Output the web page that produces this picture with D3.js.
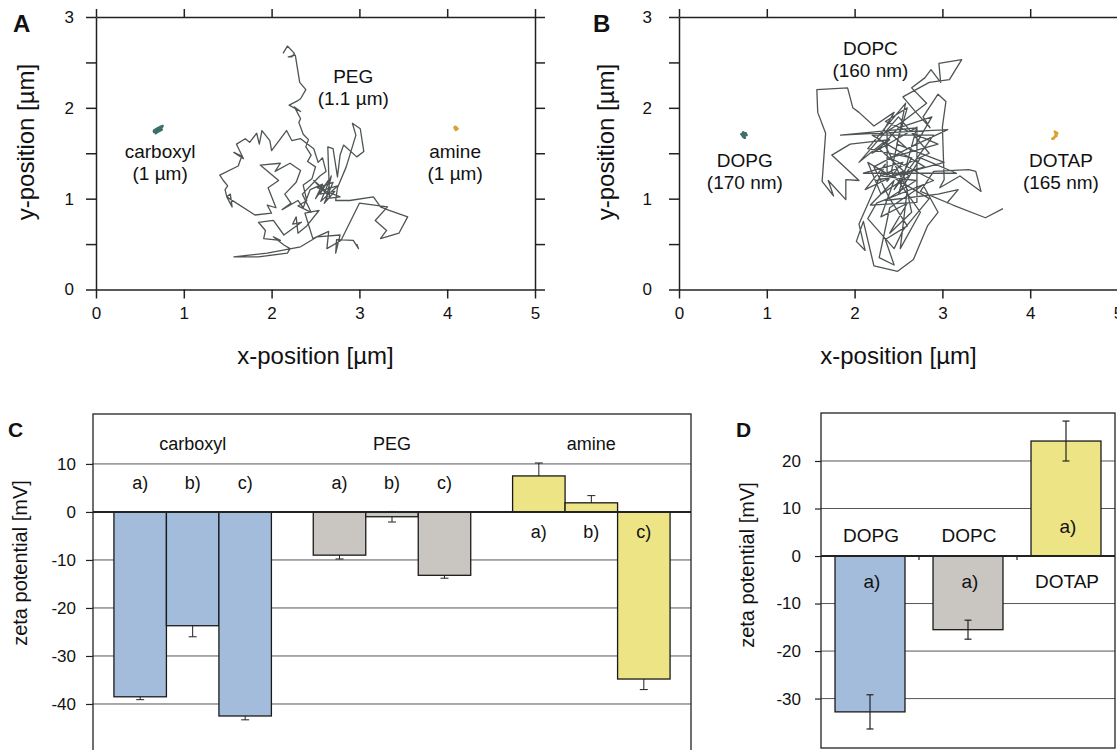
<!DOCTYPE html>
<html>
<head>
<meta charset="utf-8">
<script src="https://cdn.jsdelivr.net/npm/d3@7"></script>
<style>
  body { margin: 0; background: #fff; }
  svg text { font-family: Arial, "Liberation Sans", sans-serif; fill: #111; }
</style>
</head>
<body>
<svg id="chart" width="1117" height="750"></svg>
<script>
// ---- trajectories (x, y in µm) ----
const pegTrack = [
  [2.13,2.60],[2.18,2.68],[2.26,2.60],[2.23,2.56],[2.19,2.56],[2.27,2.58],[2.32,2.28],[2.39,2.20],[2.33,2.10],[2.30,2.08],
  [2.20,2.03],[2.33,1.96],[2.26,2.01],[2.33,1.88],[2.31,1.84],[2.36,1.71],[2.42,1.65],[2.39,1.57],[2.45,1.48],[2.41,1.41],
  [2.50,1.35],[2.46,1.22],[2.36,1.15],[2.40,0.98],[2.30,0.92],[2.45,0.85],[2.35,1.05],[2.55,1.25],[2.62,1.30],[2.58,1.45],
  [2.53,1.40],[2.48,1.55],
  [2.33,1.66],[2.23,1.64],[2.17,1.75],[2.00,1.53],[1.98,1.64],[1.89,1.75],[1.86,1.60],[1.83,1.72],[1.75,1.62],[1.70,1.66],
  [1.60,1.60],[1.68,1.44],[1.57,1.51],[1.66,1.47],
  [1.62,1.36],[1.41,1.26],[1.45,1.20],[1.50,1.14],[1.47,1.10],[1.49,1.02],[1.53,1.05],[1.55,0.91],[1.49,1.02],[1.81,0.82],
  [2.00,0.84],[1.95,0.93],[2.05,0.90],[1.96,1.12],[2.08,1.20],[1.87,1.37],[2.10,1.39],[2.04,1.30],[2.21,1.39],[2.33,1.31],
  [2.28,1.18],[2.15,1.05],[2.22,0.95],[2.12,0.88],[2.30,0.98],[2.36,0.90],[2.44,1.10],
  [2.58,1.16],[2.50,1.00],[2.66,1.22],[2.55,1.05],[2.72,1.08],[2.60,0.95],[2.70,1.18],[2.52,1.12],[2.78,1.02],[2.62,1.00],
  [2.68,1.25],[2.56,0.97],[2.75,1.14],[2.60,1.10],[2.48,1.20],[2.66,1.02],[2.64,1.57],[2.70,1.55],[2.75,1.24],[2.78,1.48],
  [2.82,1.59],[2.97,1.46],[3.05,1.52],[3.01,1.77],[2.92,1.83],[2.96,1.70],[2.85,1.35],[2.75,1.12],[2.73,0.98],[2.89,0.98],
  [3.16,1.02],[3.24,0.91],[3.34,0.87],[3.55,0.80],[3.45,0.62],[3.24,0.56],[3.31,0.65],[3.18,0.76],[3.32,0.91],[3.00,0.95],
  [2.79,0.54],[2.63,0.45],[2.65,0.64],[2.47,0.56],[2.38,0.84],[2.54,0.87],[2.40,0.70],[2.30,0.62],[2.28,0.80],[2.24,0.72],
  [2.34,0.74],[2.14,0.60],[2.02,0.76],[1.85,0.74],[1.93,0.65],[1.91,0.56],[2.10,0.54],[2.02,0.58],[2.14,0.49],[2.21,0.45],
  [2.18,0.40],[1.85,0.36],[1.57,0.36],[1.95,0.40],[2.33,0.47],[2.52,0.58],[2.78,0.60],[2.73,0.40],[2.74,0.55],[2.93,0.54],
  [2.99,0.45],[2.97,0.50]
];
const carboxylTrack = [[0.65,1.73],[0.70,1.76],[0.67,1.74],[0.73,1.79],[0.76,1.80],[0.72,1.75],[0.68,1.72],[0.74,1.77],[0.71,1.78],[0.66,1.75],[0.75,1.76],[0.69,1.73]];
const amineTrack = [[4.08,1.80],[4.10,1.78],[4.09,1.76],[4.11,1.77],[4.08,1.78],[4.10,1.79],[4.12,1.77],[4.09,1.75]];

const dopcTrack = [
  [3.69,0.89],[3.49,0.79],[3.12,0.93],[2.75,1.08],[2.90,1.30],[3.30,1.32],[3.38,1.30],[3.44,1.08],[3.20,1.25],[2.97,1.12],
  [3.02,1.21],[3.00,1.79],[3.04,2.07],[2.95,2.15],[2.78,1.90],[2.86,1.78],[2.70,1.95],[2.55,2.12],[2.85,2.28],[3.08,2.31],
  [3.22,2.53],[2.96,2.49],[2.98,2.28],[2.87,2.42],[2.80,2.33],[2.65,2.22],[2.82,2.05],[2.55,1.85],[2.30,1.70],[2.45,1.95],
  [2.22,1.80],[2.05,1.95],[1.98,2.00],[1.92,2.22],[1.57,2.20],[1.58,1.95],[1.67,1.72],[1.63,1.19],[1.76,1.03],[1.70,1.20],
  [1.90,0.99],[1.90,1.21],[2.05,1.20],[1.74,1.48],[1.95,1.60],[2.40,1.65],[2.20,1.50],[2.70,1.78],[1.84,1.70],[3.06,1.76],
  [2.60,1.55],[2.37,1.75],[2.37,1.19],[2.55,1.40],[2.10,1.28],[3.16,1.28],[2.75,1.45],[2.50,1.05],[2.71,1.79],[2.71,0.96],
  [2.18,0.93],[2.45,1.20],[2.30,0.80],[2.60,0.95],[2.40,0.62],[2.65,0.85],[2.55,1.30],[2.12,1.10],[2.35,1.38],[2.05,0.72],
  [2.12,0.43],[2.02,0.53],[2.10,0.75],[2.22,0.26],[2.49,0.20],[2.67,0.33],[2.83,0.70],[2.95,0.85],[2.78,1.15],[2.40,0.90],
  [2.28,0.35],[2.45,0.27],[2.35,0.55],[2.60,0.70],[2.40,1.00],[2.22,1.35],[2.70,1.60],[2.88,1.90],[2.50,1.78],[2.28,1.55],
  [2.62,1.25],[2.30,1.05],[2.15,1.40],[2.85,1.00],[2.55,0.65],[2.45,0.45],[2.15,0.78],[2.25,0.95],[2.90,1.20],[2.40,1.45],
  [2.95,1.60],[2.35,1.85],[2.60,2.00],[2.48,1.60],[3.02,1.40],[2.25,1.20],[2.80,1.35],[2.20,1.70],[2.90,1.70],[2.45,1.10],
  [2.65,1.45],[2.15,1.55],[2.58,2.05],[2.42,1.30],[2.75,0.85],[2.52,0.45],[2.60,1.10],[2.33,1.62],[2.05,1.40],[2.50,1.90],
  [2.85,1.50],[2.30,1.25],[2.70,1.20],[2.35,0.98],[2.95,1.05],[3.18,1.10],[3.05,0.95]
];
const dopgTrack = [[0.72,1.70],[0.76,1.72],[0.74,1.68],[0.71,1.71],[0.77,1.70],[0.73,1.73],[0.75,1.67],[0.72,1.69]];
const dotapTrack = [[4.26,1.65],[4.29,1.70],[4.27,1.67],[4.31,1.72],[4.28,1.74],[4.30,1.69],[4.25,1.66],[4.28,1.68]];

// ---- zeta potential, panel C ----
const groupsC = ['carboxyl', 'PEG', 'amine'];
const subsC = ['a)', 'b)', 'c)'];
const valuesC = [[-38.5, -23.7, -42.5], [-9.0, -1.0, -13.2], [7.5, 1.9, -34.8]];
const errorsC = [[0.6, 2.3, 0.8], [0.8, 1.1, 0.6], [2.7, 1.5, 2.2]];
const ticksC = [-40, -30, -20, -10, 0, 10];

// ---- zeta potential, panel D ----
const lipidsD = ['DOPG', 'DOPC', 'DOTAP'];
const valuesD = [-32.8, -15.5, 24.2];
const errorsD = [3.6, 2.0, 4.2];
const ticksD = [-30, -20, -10, 0, 10, 20];

const barColors = ['#a3bcdc', '#c9c5c1', '#ece485'];
const ink = '#222';
const plain = d => String(d); // hyphen-minus like the original

const svg = d3.select('#chart');

const panelLetter = (t, x, y, size) => svg.append('text').attr('x', x).attr('y', y)
  .attr('font-size', size).attr('font-weight', 'bold').text(t);

// trajectory panel
const drawTracks = (opt) => {
  const g = svg.append('g');
  const x = d3.scaleLinear().domain([0, 5]).range([opt.left, opt.left + 439]);
  const y = d3.scaleLinear().domain([0, 3]).range([289.5, 17]);

  const styleAxis = sel => {
    sel.selectAll('path,line').attr('stroke', ink).attr('stroke-width', 1.5);
    sel.selectAll('text').attr('font-size', 17).attr('fill', '#111');
  };
  const yTicks = [0, 0.5, 1, 1.5, 2, 2.5, 3];
  g.append('g').attr('transform', `translate(0,${y(0)})`)
    .call(d3.axisBottom(x).tickValues([0, 1, 2, 3, 4, 5]).tickSize(9).tickSizeOuter(0).tickPadding(8).tickFormat(plain))
    .call(styleAxis);
  g.append('g').attr('transform', `translate(0,${y(3)})`)
    .call(d3.axisTop(x).tickValues([0, 1, 2, 3, 4, 5]).tickSize(8).tickSizeOuter(0).tickFormat(''))
    .call(styleAxis);
  g.append('g').attr('transform', `translate(${x(0)},0)`)
    .call(d3.axisLeft(y).tickValues(yTicks).tickSize(10).tickSizeOuter(0).tickPadding(opt.pad)
      .tickFormat(d => Number.isInteger(d) ? plain(d) : ''))
    .call(styleAxis);
  g.append('g').attr('transform', `translate(${x(5)},0)`)
    .call(d3.axisRight(y).tickValues(yTicks).tickSize(10).tickSizeOuter(0).tickFormat(''))
    .call(styleAxis);

  const line = d3.line().x(d => x(d[0])).y(d => y(d[1]));
  opt.tracks.forEach(t => {
    g.append('path').attr('d', line(t.data)).attr('fill', t.fill || 'none')
      .attr('stroke', t.color).attr('stroke-width', t.width).attr('stroke-linejoin', 'round');
  });

  opt.labels.forEach(l => {
    l.lines.forEach((s, i) => {
      g.append('text').attr('x', x(l.x)).attr('y', y(l.y) + i * 22)
        .attr('text-anchor', 'middle').attr('dominant-baseline', 'central')
        .attr('font-size', 19).text(s);
    });
  });

  g.append('text').attr('x', (x(0) + x(5)) / 2).attr('y', 355)
    .attr('text-anchor', 'middle').attr('dominant-baseline', 'central')
    .attr('font-size', 24).text('x-position [µm]');
  g.append('text').attr('transform', `translate(${opt.titleX},142) rotate(-90)`)
    .attr('text-anchor', 'middle').attr('dominant-baseline', 'central')
    .attr('font-size', 24).text('y-position [µm]');
};

drawTracks({
  left: 96, pad: 12, titleX: 25,
  tracks: [
    { data: pegTrack, color: '#4e5454', width: 1.3 },
    { data: carboxylTrack, color: '#3d6e6e', width: 2.4, fill: '#3d6e6e' },
    { data: amineTrack, color: '#d9a22c', width: 2.2, fill: '#d9a22c' }
  ],
  labels: [
    { x: 0.73, y: 1.52, lines: ['carboxyl', '(1 µm)'] },
    { x: 2.93, y: 2.34, lines: ['PEG', '(1.1 µm)'] },
    { x: 4.09, y: 1.52, lines: ['amine', '(1 µm)'] }
  ]
});
drawTracks({
  left: 679, pad: 17, titleX: 605,
  tracks: [
    { data: dopcTrack, color: '#4e5454', width: 1.3 },
    { data: dopgTrack, color: '#3d6e6e', width: 2.6, fill: '#3d6e6e' },
    { data: dotapTrack, color: '#d9a22c', width: 2.4, fill: '#d9a22c' }
  ],
  labels: [
    { x: 0.75, y: 1.42, lines: ['DOPG', '(170 nm)'] },
    { x: 2.18, y: 2.65, lines: ['DOPC', '(160 nm)'] },
    { x: 4.35, y: 1.42, lines: ['DOTAP', '(165 nm)'] }
  ]
});
panelLetter('A', 13, 32, 24);
panelLetter('B', 593, 32, 24);

// ---- panel C ----
{
  const left = 93, right = 691, top = 414, bottom = 752;
  const y = d3.scaleLinear().domain([-50, 20.4]).range([bottom, top]);
  const x = d3.scaleBand().domain(groupsC).range([left, right]).paddingInner(0.21).paddingOuter(0.105);
  const xs = d3.scaleBand().domain(subsC).range([0, x.bandwidth()]);
  const g = svg.append('g');

  ticksC.filter(t => t !== 0).forEach(t => {
    g.append('line').attr('x1', left).attr('x2', right).attr('y1', y(t)).attr('y2', y(t))
      .attr('stroke', '#555').attr('stroke-width', 1);
  });

  groupsC.forEach((grp, gi) => {
    const positive = d3.max(valuesC[gi]) > 0;
    subsC.forEach((s, si) => {
      const v = valuesC[gi][si], e = errorsC[gi][si];
      const cx = x(grp) + xs(s) + xs.bandwidth() / 2;
      // error bar behind the bar
      g.append('line').attr('x1', cx).attr('x2', cx).attr('y1', y(v - e)).attr('y2', y(v + e))
        .attr('stroke', ink).attr('stroke-width', 1);
      [v - e, v + e].forEach(ev => g.append('line').attr('x1', cx - 4).attr('x2', cx + 4)
        .attr('y1', y(ev)).attr('y2', y(ev)).attr('stroke', ink).attr('stroke-width', 1));
      g.append('rect').attr('x', x(grp) + xs(s)).attr('width', xs.bandwidth())
        .attr('y', y(Math.max(0, v))).attr('height', Math.abs(y(v) - y(0)))
        .attr('fill', barColors[gi]).attr('stroke', '#1a1a1a').attr('stroke-width', 1.3);
      g.append('text').attr('x', cx).attr('y', positive ? y(0) + 20 : y(0) - 29)
        .attr('text-anchor', 'middle').attr('dominant-baseline', 'central')
        .attr('font-size', 18).text(s);
    });
    g.append('text').attr('x', x(grp) + x.bandwidth() / 2).attr('y', 444)
      .attr('text-anchor', 'middle').attr('dominant-baseline', 'central')
      .attr('font-size', 18).text(grp);
  });

  g.append('line').attr('x1', left).attr('x2', right).attr('y1', y(0)).attr('y2', y(0))
    .attr('stroke', ink).attr('stroke-width', 2);
  g.append('rect').attr('x', left).attr('y', top).attr('width', right - left).attr('height', bottom - top)
    .attr('fill', 'none').attr('stroke', ink).attr('stroke-width', 1.3);

  g.append('g').attr('transform', `translate(${left},0)`)
    .call(d3.axisLeft(y).tickValues(ticksC).tickSize(7).tickSizeOuter(0).tickPadding(10).tickFormat(plain))
    .call(sel => {
      sel.select('.domain').remove();
      sel.selectAll('line').attr('stroke', ink).attr('stroke-width', 1.2);
      sel.selectAll('text').attr('font-size', 17).attr('fill', '#111');
    });

  g.append('text').attr('transform', `translate(20,563) rotate(-90)`)
    .attr('text-anchor', 'middle').attr('dominant-baseline', 'central')
    .attr('font-size', 20).text('zeta potential [mV]');
  panelLetter('C', 8, 437, 21);
}

// ---- panel D ----
{
  const left = 821, right = 1115, top = 413, bottom = 748;
  const y = d3.scaleLinear().domain([-40.4, 30.1]).range([bottom, top]);
  const x = d3.scaleBand().domain(lipidsD).range([left, right]).paddingInner(0.286).paddingOuter(0.143);
  const g = svg.append('g');

  ticksD.filter(t => t !== 0).forEach(t => {
    g.append('line').attr('x1', left).attr('x2', right).attr('y1', y(t)).attr('y2', y(t))
      .attr('stroke', '#555').attr('stroke-width', 1);
  });

  lipidsD.forEach((name, i) => {
    const v = valuesD[i], e = errorsD[i];
    const cx = x(name) + x.bandwidth() / 2;
    g.append('rect').attr('x', x(name)).attr('width', x.bandwidth())
      .attr('y', y(Math.max(0, v))).attr('height', Math.abs(y(v) - y(0)))
      .attr('fill', barColors[i]).attr('stroke', '#1a1a1a').attr('stroke-width', 1.3);
    g.append('line').attr('x1', cx).attr('x2', cx).attr('y1', y(v - e)).attr('y2', y(v + e))
      .attr('stroke', ink).attr('stroke-width', 1.2);
    [v - e, v + e].forEach(ev => g.append('line').attr('x1', cx - 3.5).attr('x2', cx + 3.5)
      .attr('y1', y(ev)).attr('y2', y(ev)).attr('stroke', ink).attr('stroke-width', 1.2));
    const neg = v < 0;
    g.append('text').attr('x', cx + 1).attr('y', neg ? y(0) - 21 : y(0) + 25)
      .attr('text-anchor', 'middle').attr('dominant-baseline', 'central')
      .attr('font-size', 19).text(name);
    g.append('text').attr('x', cx + 2).attr('y', neg ? y(0) + 25 : y(0) - 30)
      .attr('text-anchor', 'middle').attr('dominant-baseline', 'central')
      .attr('font-size', 19).text('a)');
  });

  g.append('line').attr('x1', left).attr('x2', right).attr('y1', y(0)).attr('y2', y(0))
    .attr('stroke', ink).attr('stroke-width', 2);
  lipidsD.slice(1).forEach(name => {
    const bx = x(name) - x.step() * x.paddingInner() / 2;
    g.append('line').attr('x1', bx).attr('x2', bx).attr('y1', y(0)).attr('y2', y(0) + 4)
      .attr('stroke', ink).attr('stroke-width', 1.2);
  });
  g.append('rect').attr('x', left).attr('y', top).attr('width', right - left).attr('height', bottom - top)
    .attr('fill', 'none').attr('stroke', ink).attr('stroke-width', 1.3);

  g.append('g').attr('transform', `translate(${left},0)`)
    .call(d3.axisLeft(y).tickValues(ticksD).tickSize(6).tickSizeOuter(0).tickPadding(14).tickFormat(plain))
    .call(sel => {
      sel.select('.domain').remove();
      sel.selectAll('line').attr('stroke', ink).attr('stroke-width', 1.2);
      sel.selectAll('text').attr('font-size', 17).attr('fill', '#111');
    });

  g.append('text').attr('transform', `translate(747,565) rotate(-90)`)
    .attr('text-anchor', 'middle').attr('dominant-baseline', 'central')
    .attr('font-size', 20).text('zeta potential [mV]');
  panelLetter('D', 736, 437, 21);
}
</script>
</body>
</html>
